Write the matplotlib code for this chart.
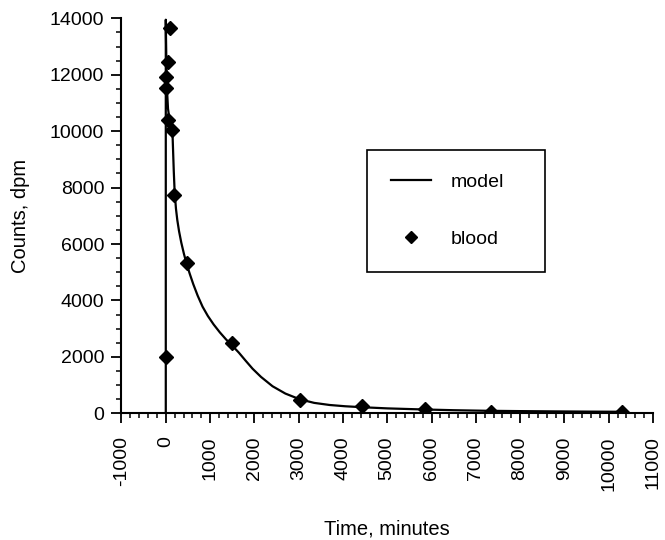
import matplotlib
matplotlib.use("Agg")
import matplotlib.pyplot as plt
from matplotlib.ticker import MultipleLocator

plt.rcParams['font.family'] = ['Liberation Sans', 'DejaVu Sans']

# model curve
model_t = [0, 0, 5, 15, 30, 50, 80, 120, 150, 165, 180, 200, 230, 260, 300, 350,
           410, 470, 540, 620, 720, 830, 950, 1080, 1220, 1360, 1500, 1650, 1800,
           1960, 2150, 2410, 2700, 3020, 3350, 3700, 4050, 4450, 5000, 5730, 6500,
           7240, 8000, 8800, 9600, 10300]
model_y = [0, 13950, 13300, 12300, 11400, 10800, 10450, 10200, 10000, 9300, 8600,
           7850, 7250, 6850, 6450, 6050, 5650, 5300, 4950, 4580, 4170, 3780, 3450,
           3150, 2870, 2620, 2400, 2150, 1870, 1580, 1290, 960, 700, 500, 370, 295,
           250, 215, 175, 140, 110, 90, 78, 68, 60, 55]

# blood samples
blood_t = [0, 0, 10, 55, 90, 40, 150, 195, 470, 1490, 3030, 4440, 5850, 7350, 10300]
blood_y = [1985, 11520, 11930, 12460, 13650, 10400, 10040, 7740, 5320, 2490, 475,
           255, 140, 30, 50]

xticks = list(range(-1000, 11001, 1000))
yticks = list(range(0, 14001, 2000))

fig = plt.figure(figsize=(6.65, 5.4), dpi=100)
ax = fig.add_axes([0.1827, 0.2346, 0.7992, 0.7315])

ax.plot(model_t, model_y, color='black', lw=1.6, label='model', zorder=2)
ax.plot(blood_t, blood_y, 'D', color='black', ms=7.2, label='blood', zorder=3)

ax.set_xlim(-1000, 11000)
ax.set_ylim(0, 14000)
ax.set_xticks(xticks)
ax.set_xticklabels([str(v) for v in xticks], rotation=90)
ax.set_yticks(yticks)
ax.xaxis.set_minor_locator(MultipleLocator(200))
ax.yaxis.set_minor_locator(MultipleLocator(500))
ax.tick_params(which='major', direction='out', length=7.5, width=1.3,
               labelsize=14, pad=5)
ax.tick_params(which='minor', direction='out', length=3.5, width=1.1)
ax.tick_params(axis='x', which='major', pad=9)

for s in ['top', 'right']:
    ax.spines[s].set_visible(False)
for s in ['left', 'bottom']:
    ax.spines[s].set_linewidth(1.5)

ax.set_xlabel('Time, minutes', fontsize=14.5)
ax.set_ylabel('Counts, dpm', fontsize=14.5)
ax.xaxis.set_label_coords(0.5, -0.27)
ax.yaxis.set_label_coords(-0.172, 0.5)

leg = ax.legend(loc='upper left', bbox_to_anchor=(0.4625, 0.367, 0.335, 0.30),
                mode='expand', borderaxespad=0, fontsize=14, frameon=True,
                fancybox=False, edgecolor='black', framealpha=1,
                labelspacing=2.05, borderpad=1.2, handlelength=2.1,
                handletextpad=1.0, markerscale=0.9)
leg.get_frame().set_linewidth(1.2)

fig.savefig('out.png', dpi=100)
